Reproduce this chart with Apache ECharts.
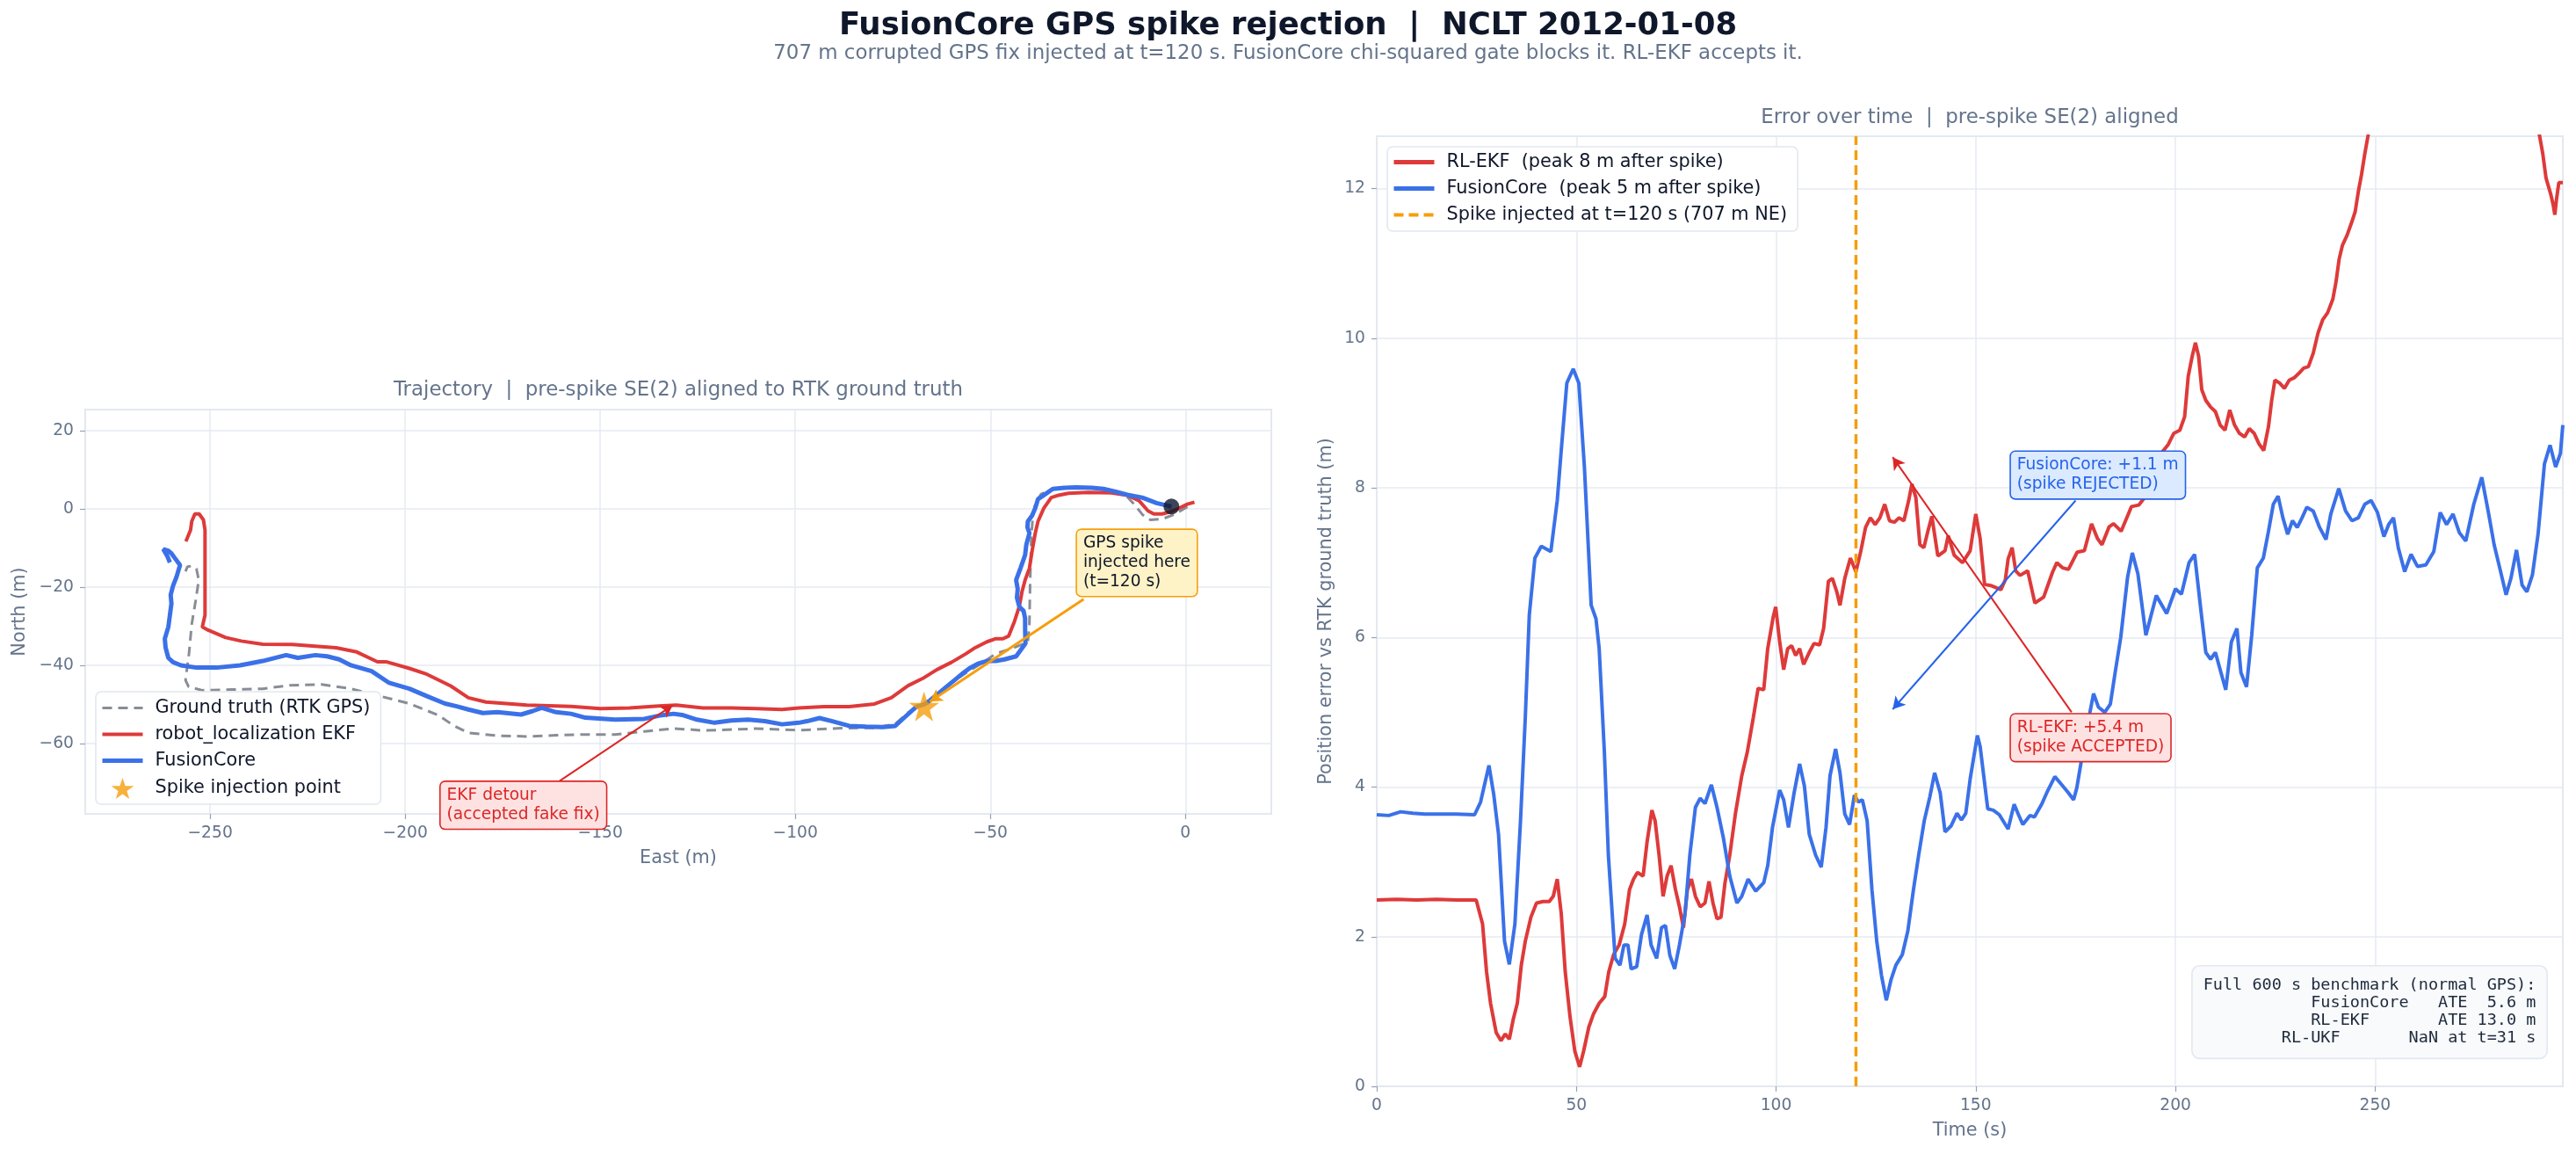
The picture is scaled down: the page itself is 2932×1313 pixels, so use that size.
<!DOCTYPE html>
<html><head><meta charset="utf-8">
<script src="https://cdn.jsdelivr.net/npm/echarts@6/dist/echarts.min.js"></script>
<style>html,body{margin:0;padding:0;background:#fff}#c{width:2932px;height:1313px}</style>
</head><body><div id="c"></div>
<script>
// ---------- DATA ----------
const gtPath = [[0.5,0.5],[-3,-1.5],[-6,-2.6],[-9,-2.8],[-11,-1.5],[-13,1],[-15,3.2],[-20,4.8],[-25,5.4],[-30,5.4],[-34,5],[-37,3.8],[-38.6,1],[-39.2,-3],[-39.5,-7],[-39.8,-18],[-40,-29.5],[-40.4,-34],[-42,-34.7],[-45,-35.9],[-48.6,-37],[-52.4,-39.6],[-56.2,-41.9],[-60,-44.5],[-63.7,-47.5],[-66,-49.8],[-68,-50.5],[-71,-52],[-74.4,-55],[-79.7,-56],[-88.4,-56.1],[-99,-56.6],[-110,-56.2],[-123.7,-56.7],[-127.4,-56.4],[-131.2,-56.2],[-138.7,-56.9],[-146.2,-57.7],[-153.8,-57.7],[-161.3,-57.9],[-168.8,-58.2],[-176.3,-58],[-183.8,-57.3],[-187.6,-55.4],[-191.4,-52.8],[-198.9,-49.8],[-206.4,-47.9],[-213.9,-46],[-221.4,-44.9],[-229.5,-45.1],[-236.5,-46],[-244.5,-46.2],[-252,-46.4],[-255.5,-45.5],[-256.3,-43.8],[-255.4,-37],[-254.7,-29.5],[-253.7,-23.5],[-252.9,-18.2],[-253.5,-15.3],[-254.7,-14.6],[-255.8,-14.8],[-256.3,-16]];
const ekfPath = [[2.3,1.7],[0.5,1.2],[-2,0],[-4,-0.8],[-6,-1.3],[-8.1,-1.3],[-9.6,-0.5],[-11.9,2.1],[-14.9,3.5],[-19,4.1],[-25,4.2],[-30,4],[-32.5,3.5],[-34.4,2.9],[-36.3,0.2],[-37.8,-3.2],[-38.5,-6.2],[-39.3,-10.7],[-40,-15.2],[-41.1,-18.2],[-41.9,-21.2],[-42.6,-25],[-43.8,-28.7],[-45.3,-32.5],[-46.8,-33.2],[-48.6,-33.2],[-50.9,-34],[-53.9,-35.5],[-56.2,-37],[-59.9,-39.2],[-63.7,-41.1],[-67.4,-43.4],[-71.1,-45.2],[-75.4,-48.3],[-79.7,-49.9],[-86.2,-50.6],[-92.7,-50.6],[-99.1,-50.9],[-103.4,-51.3],[-109.9,-51.1],[-116.4,-50.9],[-123.7,-50.9],[-130.5,-50.2],[-135,-50.4],[-142.5,-50.9],[-150,-51.1],[-157.5,-50.5],[-168.8,-50.2],[-179.3,-49.4],[-183.8,-48.3],[-188.3,-45.3],[-194.4,-42.3],[-198.9,-40.8],[-204.9,-39.1],[-207.1,-39.1],[-212.4,-36.6],[-217.7,-35.5],[-229,-34.7],[-236.5,-34.6],[-242,-33.8],[-246,-32.9],[-250.5,-31],[-252,-30.2],[-251.3,-27.2],[-251.3,-22],[-251.3,-5.4],[-251.7,-2.8],[-252.8,-1.3],[-253.9,-1.3],[-254.7,-3.2],[-255,-5.4],[-256.2,-8.3]];
const fcPath = [[-3.6,0.6],[-7.4,1.5],[-11.1,2.9],[-14.9,3.6],[-17.9,4.4],[-21,5.1],[-24,5.4],[-28,5.5],[-31,5.4],[-34,5.1],[-35.9,3.8],[-37.8,2.5],[-38.5,0.2],[-39.3,-1.7],[-40.4,-3.2],[-40.5,-4.7],[-40,-6.2],[-40.8,-9.2],[-41.1,-11.8],[-42.3,-15.2],[-43.4,-18.2],[-43,-20.5],[-43.2,-22.7],[-42.6,-25],[-41.5,-26.1],[-41.1,-28],[-41.1,-31],[-41,-34.4],[-42.3,-36.2],[-43.4,-37.7],[-46.4,-38.5],[-48.6,-38.9],[-50.9,-38.9],[-53.2,-39.6],[-55.4,-40.8],[-56.9,-41.9],[-59.2,-43.8],[-61.4,-45.6],[-63.7,-47.5],[-65.5,-49],[-67,-50],[-69,-50.6],[-72.2,-53.5],[-74.4,-55.5],[-77.6,-55.8],[-81.9,-55.7],[-86.2,-55.5],[-90.5,-54.3],[-93.8,-53.5],[-97,-54.3],[-99.1,-54.7],[-103.4,-55.1],[-107.8,-54.3],[-112.1,-53.9],[-116.4,-54.1],[-120.7,-54.7],[-125.2,-53.9],[-129,-52.7],[-131.2,-52.4],[-135,-52.9],[-138.7,-53.7],[-146.2,-53.9],[-153.8,-53.4],[-157.5,-52.4],[-161.3,-52],[-165,-50.9],[-167.3,-51.7],[-170.3,-52.6],[-176.3,-52],[-180.1,-52.2],[-183.8,-51.3],[-186.8,-50.5],[-189.8,-49.8],[-194.4,-47.9],[-198.9,-46],[-204.1,-44.5],[-208.6,-41.5],[-213.9,-40],[-216.9,-38.5],[-220,-37.7],[-223,-37.4],[-227.5,-38.1],[-230.5,-37.4],[-236.5,-38.9],[-242.3,-40],[-248.3,-40.6],[-253.5,-40.6],[-257.5,-40],[-259.5,-39.2],[-260.7,-38.1],[-261.4,-35.5],[-261.6,-33.2],[-260.7,-30.2],[-260.3,-27.2],[-259.9,-24.2],[-260.1,-22],[-259.5,-19.7],[-258.6,-17.4],[-257.7,-14.4],[-258.8,-12.9],[-259.9,-11.4],[-260.7,-10.7],[-262,-10.3],[-261,-12],[-260.3,-13.7]];
const spikePoint = [[-67, -50.5]];
const startPoint = [[-3.6, 0.6]];

const fcErr = [[0,3.63],[3,3.62],[6,3.67],[9,3.65],[12,3.64],[16,3.64],[20,3.64],[24.5,3.63],[26,3.8],[28.1,4.29],[29.3,3.9],[30.5,3.37],[32,1.94],[33.2,1.63],[34.6,2.17],[36,3.55],[37.2,4.93],[38.2,6.3],[39.6,7.06],[41.2,7.22],[43.6,7.15],[45.2,7.83],[46.2,8.5],[47.6,9.4],[49.2,9.59],[50.6,9.4],[52,8.28],[53.7,6.43],[54.9,6.25],[55.7,5.85],[57,4.47],[58,3.09],[59.7,1.71],[60.9,1.62],[61.9,1.89],[62.9,1.89],[63.7,1.57],[65.1,1.6],[66.3,2.03],[67.7,2.29],[68.7,1.89],[70.1,1.71],[71.3,2.12],[72.3,2.15],[73.4,1.75],[74.6,1.57],[75.8,1.89],[77.2,2.31],[78.4,3.09],[79.8,3.73],[81,3.85],[82.2,3.78],[83.8,4.03],[85.2,3.73],[86.8,3.32],[88.4,2.81],[90.2,2.45],[91.4,2.54],[93,2.77],[94.9,2.61],[96.9,2.72],[97.9,2.95],[99.1,3.46],[100.9,3.96],[101.9,3.83],[103.1,3.46],[104.5,3.92],[105.9,4.31],[107.1,4.01],[108.3,3.37],[109.9,3.09],[111.3,2.93],[112.5,3.46],[113.5,4.15],[114.9,4.51],[116,4.19],[117.2,3.64],[118.4,3.5],[119.6,3.89],[120.6,3.8],[121.6,3.83],[122.8,3.55],[124,2.63],[125.2,1.94],[126.4,1.48],[127.6,1.15],[128.8,1.43],[130,1.62],[131.6,1.76],[133,2.08],[134.4,2.63],[135.7,3.09],[137.1,3.55],[138.5,3.87],[139.7,4.19],[141.1,3.92],[142.3,3.4],[143.8,3.48],[145.3,3.65],[146.4,3.56],[147.5,3.65],[148.6,4.11],[150.4,4.69],[151.1,4.54],[153,3.71],[154.4,3.69],[155.9,3.63],[158.1,3.44],[159.6,3.77],[160.7,3.63],[161.8,3.5],[163.6,3.62],[164.7,3.6],[166.5,3.77],[168,3.95],[169.8,4.14],[170.9,4.07],[173.1,3.93],[174.5,3.83],[175.3,3.99],[176.4,4.34],[177.6,4.73],[179.5,5.25],[180.7,5.07],[182.3,5.0],[183.7,5.11],[184.9,5.53],[186.3,6.0],[188,6.8],[189.2,7.13],[190.6,6.85],[192.6,6.03],[195.2,6.56],[197.8,6.32],[200,6.65],[201.5,6.58],[203.4,7.0],[204.8,7.11],[206.4,6.35],[207.6,5.8],[208.8,5.71],[210,5.8],[211.4,5.53],[212.6,5.3],[214,5.94],[215.4,6.12],[216.4,5.53],[217.8,5.34],[219.1,6.03],[220.5,6.93],[222,7.06],[223.3,7.42],[224.5,7.78],[225.7,7.89],[226.9,7.6],[228.1,7.38],[229.3,7.56],[230.5,7.47],[231.7,7.6],[232.9,7.74],[234.5,7.69],[236.1,7.47],[237.7,7.31],[238.9,7.65],[240.9,7.99],[242.6,7.69],[244.2,7.56],[245.8,7.6],[247.4,7.78],[249,7.83],[250.6,7.67],[252.2,7.35],[253.4,7.51],[254.6,7.6],[255.8,7.2],[257.4,6.88],[259,7.11],[260.6,6.95],[262.7,6.97],[264.7,7.15],[266.3,7.67],[267.9,7.51],[269.5,7.65],[271.1,7.4],[272.7,7.29],[274.7,7.78],[276.7,8.14],[278.3,7.69],[279.8,7.24],[281.2,6.93],[282.8,6.57],[284,6.79],[285.4,7.17],[286.8,6.7],[288,6.61],[289.4,6.84],[290.8,7.38],[292.4,8.32],[293.8,8.57],[295.2,8.28],[296.4,8.46],[297,8.84]];
const ekfErr = [[0,2.49],[5,2.5],[10,2.49],[15,2.5],[20,2.49],[24.9,2.49],[26.5,2.17],[27.5,1.53],[28.5,1.11],[29.9,0.72],[31.1,0.61],[32.2,0.7],[33.2,0.63],[34.2,0.9],[35.2,1.11],[36.2,1.62],[37.2,1.94],[38.6,2.26],[40,2.45],[41.6,2.47],[43.2,2.47],[44.2,2.54],[45.2,2.77],[46.2,2.31],[47.2,1.53],[48.4,0.93],[49.6,0.47],[50.8,0.26],[51.8,0.47],[53.1,0.79],[54.3,0.97],[55.7,1.11],[57.1,1.2],[58.1,1.53],[59.3,1.76],[60.7,1.89],[62.1,2.17],[63.3,2.63],[64.3,2.77],[65.3,2.86],[66.7,2.81],[67.7,3.27],[68.9,3.69],[69.7,3.55],[70.7,3.09],[71.7,2.54],[72.7,2.81],[73.7,2.95],[74.8,2.63],[75.8,2.4],[76.8,2.12],[77.8,2.63],[78.8,2.77],[79.8,2.54],[81,2.4],[82.2,2.45],[83.2,2.74],[84.2,2.45],[85.2,2.24],[86.2,2.26],[87.2,2.72],[88.4,3.09],[89.8,3.64],[91.4,4.15],[92.8,4.47],[94.3,4.93],[95.5,5.32],[96.9,5.3],[97.9,5.85],[99.3,6.28],[99.9,6.41],[100.9,5.94],[101.9,5.57],[102.9,5.85],[103.9,5.89],[104.9,5.76],[105.9,5.85],[106.9,5.64],[108.3,5.8],[109.5,5.92],[110.9,5.9],[111.9,6.12],[113.1,6.75],[114.1,6.79],[115.2,6.61],[116,6.43],[117.2,6.79],[118.6,7.06],[120,6.88],[121.2,7.15],[122.4,7.47],[123.6,7.6],[124.8,7.51],[126,7.6],[127.2,7.78],[128.4,7.56],[129.6,7.54],[130.8,7.6],[132,7.56],[133.2,7.83],[134,8.05],[135,7.87],[136,7.24],[137,7.2],[138,7.42],[139,7.62],[140.5,7.09],[142.3,7.16],[143.1,7.36],[144.6,7.1],[146.7,7.0],[148.6,7.16],[150,7.65],[151.1,7.32],[152.2,6.71],[154,6.69],[156.3,6.64],[157.4,6.77],[158.1,7.05],[159.1,7.2],[160,6.89],[161.1,6.83],[163,6.89],[164.8,6.46],[167,6.54],[169.2,6.87],[170.3,7.0],[171.8,6.93],[173.2,6.91],[175.4,7.14],[177.2,7.16],[179,7.52],[180.5,7.32],[181.6,7.24],[183.4,7.48],[184.5,7.52],[186.4,7.42],[189,7.75],[190.8,7.77],[192.3,7.87],[193,8.11],[195.2,8.38],[198.2,8.58],[199.6,8.73],[201.1,8.77],[202.3,8.95],[203.2,9.49],[204.2,9.76],[205,9.94],[205.8,9.76],[206.6,9.31],[207.6,9.17],[208.8,9.08],[210,9.02],[211.2,8.84],[212.4,8.77],[213.6,9.04],[214.8,8.84],[216,8.73],[217.3,8.68],[218.5,8.79],[219.7,8.73],[220.9,8.59],[222.1,8.5],[223.3,8.82],[224.1,9.17],[224.9,9.44],[226.1,9.4],[227.3,9.33],[228.5,9.44],[229.7,9.47],[230.9,9.53],[232.1,9.6],[233.3,9.62],[234.5,9.8],[235.7,10.07],[236.9,10.25],[238.1,10.34],[239.4,10.52],[240.2,10.75],[241,11.06],[241.8,11.24],[243,11.38],[244.2,11.56],[245,11.69],[245.8,11.96],[246.6,12.19],[247.4,12.46],[248.2,12.7],[250,13.3],[256,14.5],[263,15.4],[270,15.8],[277,15.5],[284,14.5],[289.5,13.2],[291.2,12.7],[292,12.46],[292.8,12.14],[293.4,12.03],[294,11.92],[294.6,11.78],[295,11.65],[295.4,11.85],[296,12.08],[297,12.08]];
const spikeTime = 120;
const spikeLineSpan = [0, 12.7];

const trajLimits = { east: [-282, 22], north: [-78, 25.4] };
const errLimits = { time: [0, 297], err: [0, 12.7] };

const statsLines = [
  'Full 600 s benchmark (normal GPS):',
  'FusionCore   ATE  5.6 m',
  'RL-EKF       ATE 13.0 m',
  'RL-UKF       NaN at t=31 s'
];

// ---------- STYLE ----------
const FONT = 'DejaVu Sans';
const RED = '#de3a3a', BLUE = '#3b71e8', GRAY = '#888d96', ORANGE = '#f59e0b';
const TXT = '#0f172a', SUB = '#64748b', GRID = '#e6eaf0', SPINE = '#dfe4ec';
const STAR = 'path://M50,0 L61.8,35.1 L98.9,35.1 L68.8,56.7 L79.4,91 L50,70 L20.6,91 L31.2,56.7 L1.1,35.1 L38.2,35.1 Z';
const fmt = v => String(v).replace('-', '\u2212');
const statsWidth = Math.max(...statsLines.map(s => s.length));
const statsText = statsLines.map(s => s.padStart(statsWidth, ' ')).join('\n');

function axisCommon(extra, labelExtra) {
  return Object.assign({
    type: 'value',
    axisLine: { show: false, onZero: false },
    axisTick: { show: true, length: 6, lineStyle: { color: '#94a3b8', width: 1.2 } },
    axisLabel: Object.assign({ color: SUB, fontSize: 18.7, fontFamily: FONT, margin: 13, formatter: fmt, showMinLabel: false, showMaxLabel: false }, labelExtra || {}),
    splitLine: { show: true, lineStyle: { color: GRID, width: 1.5 } },
    nameLocation: 'middle',
    nameTextStyle: { color: SUB, fontSize: 20.8, fontFamily: FONT }
  }, extra);
}

const annBox = (color, bg, border) => ({
  show: true, position: 'right', distance: 0, align: 'left', verticalAlign: 'middle',
  color: color, fontSize: 18.6, fontFamily: FONT, lineHeight: 22,
  backgroundColor: bg, borderColor: border, borderWidth: 1.6, borderRadius: 5, padding: [5, 7, 4, 7]
});
const noSym = { opacity: 0 };

const option = {
  animation: false,
  backgroundColor: '#ffffff',
  textStyle: { fontFamily: FONT },
  title: [
    { text: 'FusionCore GPS spike rejection  |  NCLT 2012-01-08', left: 'center', top: 12, padding: 0,
      textStyle: { fontSize: 35.5, fontWeight: 'bold', color: TXT, fontFamily: FONT } },
    { text: '707 m corrupted GPS fix injected at t=120 s. FusionCore chi-squared gate blocks it. RL-EKF accepts it.',
      left: 'center', top: 50, padding: 0, textStyle: { fontSize: 22.9, fontWeight: 'normal', color: SUB, fontFamily: FONT } },
    { text: 'Trajectory  |  pre-spike SE(2) aligned to RTK ground truth', left: 772, textAlign: 'center', top: 433, padding: 0,
      textStyle: { fontSize: 22.9, fontWeight: 'normal', color: SUB, fontFamily: FONT } },
    { text: 'Error over time  |  pre-spike SE(2) aligned', left: 2242, textAlign: 'center', top: 123, padding: 0,
      textStyle: { fontSize: 22.9, fontWeight: 'normal', color: SUB, fontFamily: FONT } }
  ],
  grid: [
    { left: 97, top: 466, width: 1350, height: 460, show: true, borderColor: SPINE, borderWidth: 2, backgroundColor: '#fff', containLabel: false, outerBoundsMode: 'none' },
    { left: 1567, top: 155, width: 1350, height: 1081, show: true, borderColor: SPINE, borderWidth: 2, backgroundColor: '#fff', containLabel: false, outerBoundsMode: 'none' }
  ],
  xAxis: [
    axisCommon({ gridIndex: 0, min: trajLimits.east[0], max: trajLimits.east[1], splitNumber: 6, name: 'East (m)', nameGap: 40 }),
    axisCommon({ gridIndex: 1, min: errLimits.time[0], max: errLimits.time[1], interval: 50, name: 'Time (s)', nameGap: 40 }, { showMinLabel: true })
  ],
  yAxis: [
    axisCommon({ gridIndex: 0, min: trajLimits.north[0], max: trajLimits.north[1], splitNumber: 5, name: 'North (m)', nameGap: 64 }),
    axisCommon({ gridIndex: 1, min: errLimits.err[0], max: errLimits.err[1], interval: 2, name: 'Position error vs RTK ground truth (m)', nameGap: 47 }, { showMinLabel: true })
  ],
  legend: [
    { left: 109, top: 787, orient: 'vertical', itemWidth: 46, itemHeight: 24, itemGap: 9,
      padding: [8, 12, 6, 5], backgroundColor: '#fff', borderColor: '#e2e8f0', borderWidth: 1.6, borderRadius: 6,
      textStyle: { color: TXT, fontSize: 20.8, fontFamily: FONT, padding: [0, 0, 0, 9] },
      data: [
        { name: 'Ground truth (RTK GPS)', itemStyle: noSym, lineStyle: { width: 3, type: [11, 7], color: GRAY } },
        { name: 'robot_localization EKF', itemStyle: noSym, lineStyle: { width: 4, color: RED } },
        { name: 'FusionCore', itemStyle: noSym, lineStyle: { width: 5, color: BLUE } },
        { name: 'Spike injection point' }
      ] },
    { left: 1579, top: 167, orient: 'vertical', itemWidth: 46, itemHeight: 21, itemGap: 9,
      padding: [7, 12, 8, 5], backgroundColor: '#fff', borderColor: '#e2e8f0', borderWidth: 1.6, borderRadius: 6,
      textStyle: { color: TXT, fontSize: 20.8, fontFamily: FONT, padding: [0, 0, 0, 9] },
      data: [
        { name: 'RL-EKF  (peak 8 m after spike)', itemStyle: noSym, lineStyle: { width: 5, color: RED } },
        { name: 'FusionCore  (peak 5 m after spike)', itemStyle: noSym, lineStyle: { width: 5, color: BLUE } },
        { name: 'Spike injected at t=120 s (707 m NE)', itemStyle: noSym, lineStyle: { width: 4, type: [11, 6], color: ORANGE } }
      ] }
  ],
  graphic: [
    { type: 'text', right: 32, top: 1098, z: 100,
      style: { text: statsText, font: '18.5px "DejaVu Sans Mono"', fill: '#1e293b',
        lineHeight: 20, backgroundColor: '#f8fafc', borderColor: '#e2e8f0', borderWidth: 1.6, borderRadius: 8, padding: [12, 12, 12, 12] } }
  ],
  series: [
    { name: 'Ground truth (RTK GPS)', type: 'line', xAxisIndex: 0, yAxisIndex: 0, data: gtPath, symbol: 'none', showSymbol: false,
      lineStyle: { color: GRAY, width: 3, type: [11, 7] }, itemStyle: { color: GRAY }, z: 2 },
    { name: 'robot_localization EKF', type: 'line', xAxisIndex: 0, yAxisIndex: 0, data: ekfPath, symbol: 'none', showSymbol: false,
      lineStyle: { color: RED, width: 4 }, itemStyle: { color: RED }, z: 3,
      markLine: { silent: true, symbol: ['none', 'arrow'], symbolSize: [12, 14], label: { show: false },
        lineStyle: { color: '#dc2626', width: 2, type: 'solid' },
        data: [[{ coord: [-160.6, -69.7] }, { coord: [-131.4, -50.2] }]] },
      markPoint: { symbol: 'circle', symbolSize: 1, itemStyle: { color: 'rgba(0,0,0,0)' },
        label: annBox('#dc2626', '#fee2e2', '#dc2626'),
        data: [{ coord: [-191, -75.8], value: 'x', label: { formatter: 'EKF detour\n(accepted fake fix)' } }] } },
    { name: 'FusionCore', type: 'line', xAxisIndex: 0, yAxisIndex: 0, data: fcPath, symbol: 'none', showSymbol: false,
      lineStyle: { color: BLUE, width: 5 }, itemStyle: { color: BLUE }, z: 4 },
    { name: 'Spike injection point', type: 'scatter', xAxisIndex: 0, yAxisIndex: 0, data: spikePoint, symbol: STAR, symbolSize: 34,
      itemStyle: { color: ORANGE }, z: 6,
      markLine: { silent: true, symbol: ['none', 'arrow'], symbolSize: [12, 14], label: { show: false },
        lineStyle: { color: ORANGE, width: 3, type: 'solid' },
        data: [[{ coord: [-26.1, -23.1] }, { coord: [-65.5, -49.3] }]] },
      markPoint: { symbol: 'circle', symbolSize: 1, itemStyle: { color: 'rgba(0,0,0,0)' },
        label: annBox(TXT, '#fef3c7', ORANGE),
        data: [{ coord: [-27.9, -13.8], value: 'x', label: { formatter: 'GPS spike\ninjected here\n(t=120 s)' } }] } },
    { name: 'start', type: 'scatter', xAxisIndex: 0, yAxisIndex: 0, data: startPoint, symbol: 'circle', symbolSize: 18,
      itemStyle: { color: TXT }, z: 7 },

    { name: 'RL-EKF  (peak 8 m after spike)', type: 'line', xAxisIndex: 1, yAxisIndex: 1, data: ekfErr, symbol: 'none', showSymbol: false,
      clip: true, lineStyle: { color: RED, width: 4 }, itemStyle: { color: RED }, z: 3,
      markLine: { silent: true, symbol: ['none', 'arrow'], symbolSize: [12, 14], label: { show: false },
        lineStyle: { color: '#dc2626', width: 2, type: 'solid' },
        data: [[{ coord: [174, 5.0] }, { coord: [129.2, 8.41] }]] },
      markPoint: { symbol: 'circle', symbolSize: 1, itemStyle: { color: 'rgba(0,0,0,0)' },
        label: annBox('#dc2626', '#fee2e2', '#dc2626'),
        data: [{ coord: [158.7, 4.66], value: 'x', label: { formatter: 'RL-EKF: +5.4 m\n(spike ACCEPTED)' } }] } },
    { name: 'FusionCore  (peak 5 m after spike)', type: 'line', xAxisIndex: 1, yAxisIndex: 1, data: fcErr, symbol: 'none', showSymbol: false,
      clip: true, lineStyle: { color: BLUE, width: 4 }, itemStyle: { color: BLUE }, z: 4,
      markLine: { silent: true, symbol: ['none', 'arrow'], symbolSize: [12, 14], label: { show: false },
        lineStyle: { color: '#2563eb', width: 2, type: 'solid' },
        data: [[{ coord: [175, 7.83] }, { coord: [129.2, 5.04] }]] },
      markPoint: { symbol: 'circle', symbolSize: 1, itemStyle: { color: 'rgba(0,0,0,0)' },
        label: annBox('#2563eb', '#dbeafe', '#2563eb'),
        data: [{ coord: [158.7, 8.17], value: 'x', label: { formatter: 'FusionCore: +1.1 m\n(spike REJECTED)' } }] } },
    { name: 'Spike injected at t=120 s (707 m NE)', type: 'line', xAxisIndex: 1, yAxisIndex: 1,
      data: spikeLineSpan.map(v => [spikeTime, v]), symbol: 'none', showSymbol: false,
      lineStyle: { color: ORANGE, width: 3.5, type: [11, 6] }, itemStyle: { color: ORANGE }, z: 5 }
  ]
};

const chart = echarts.init(document.getElementById('c'), null, { renderer: 'canvas' });
chart.setOption(option);
</script>
</body></html>
